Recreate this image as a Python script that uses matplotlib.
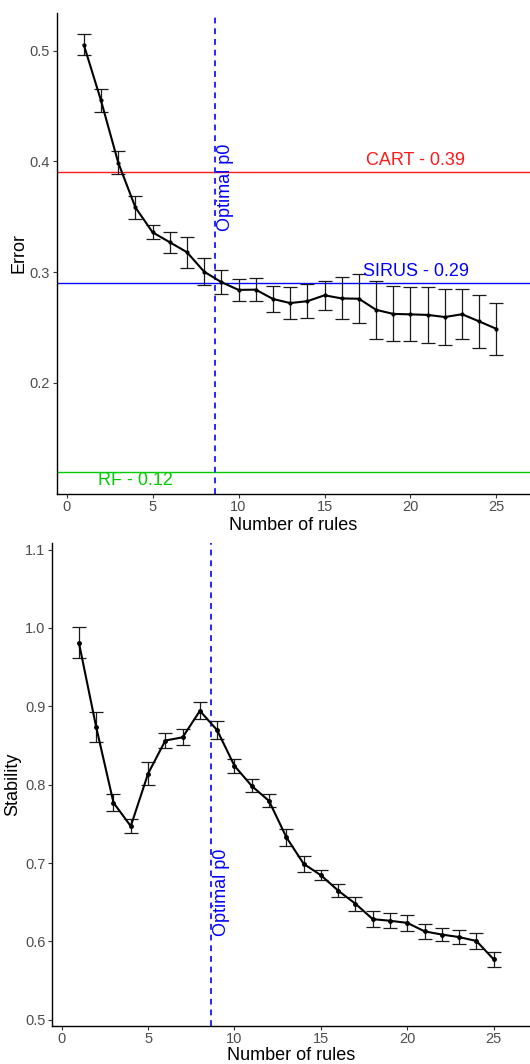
import matplotlib
matplotlib.use("Agg")
from matplotlib import pyplot as plt
import numpy as np

plt.rcParams['font.family'] = ['Liberation Sans', 'DejaVu Sans']

# number of rules
n_rules = np.arange(1, 26)

# top panel: error (mean, half width of error bar)
err_mean = [0.5053, 0.455, 0.399, 0.3585, 0.336, 0.327, 0.318, 0.3004, 0.291, 0.284,
            0.2842, 0.2758, 0.2721, 0.2738, 0.2791, 0.2763, 0.276, 0.266, 0.2623, 0.2619,
            0.2614, 0.2595, 0.262, 0.2555, 0.2488]
err_sd = [0.0093, 0.0103, 0.0108, 0.0107, 0.0065, 0.0093, 0.0139, 0.012, 0.011, 0.0099,
          0.0105, 0.0118, 0.0147, 0.0155, 0.0131, 0.019, 0.0222, 0.026, 0.0249, 0.0244,
          0.0251, 0.025, 0.0226, 0.0237, 0.0233]

# bottom panel: stability
stab_mean = [0.981, 0.8734, 0.777, 0.747, 0.814, 0.8563, 0.8604, 0.8942, 0.8694, 0.824,
             0.7983, 0.7792, 0.733, 0.699, 0.6844, 0.6648, 0.648, 0.6284, 0.6263, 0.6236,
             0.6128, 0.6087, 0.6055, 0.6005, 0.577]
stab_sd = [0.02, 0.0188, 0.011, 0.009, 0.015, 0.009, 0.01, 0.011, 0.0117, 0.009,
           0.0083, 0.0083, 0.011, 0.0102, 0.0062, 0.0087, 0.009, 0.0106, 0.0098, 0.0105,
           0.0097, 0.0087, 0.0089, 0.0105, 0.0094]

p0_opt = 8.63

# reference models
ref_names = ["CART", "SIRUS", "RF"]
ref_values = [0.39, 0.29, 0.12]
ref_colors = ["#FF1A1A", "#0000FF", "#00CD00"]
ref_label_x = [20.3, 20.3, 4.0]
ref_label_dy = [0.011, 0.011, -0.008]

tick_color = "#4D4D4D"


def style_axes(ax):
    for s in ["top", "right"]:
        ax.spines[s].set_visible(False)
    for s in ["left", "bottom"]:
        ax.spines[s].set_linewidth(1.0)
        ax.spines[s].set_color("black")
    ax.tick_params(axis="both", colors="#333333", labelcolor=tick_color,
                   labelsize=10.5, length=3, width=0.8, pad=2)
    ax.tick_params(axis="x", pad=1.5)
    ax.set_xticks([0, 5, 10, 15, 20, 25])


fig = plt.figure(figsize=(5.3, 10.64), dpi=100)

# ---- top: error ----
ax1 = fig.add_axes([0.1075, 0.5357, 0.8925, 0.4521])
for name, val, col, lx, dy in zip(ref_names, ref_values, ref_colors, ref_label_x, ref_label_dy):
    ax1.axhline(val, color=col, lw=1.0, zorder=1)
    ax1.text(lx, val + dy, "%s - %.2f" % (name, val), color=col, fontsize=13,
             ha="center", va="center", zorder=4)
ax1.axvline(p0_opt, color="#2626FF", lw=1.4, ls=(0, (3, 2.5)), zorder=2)
ax1.text(p0_opt + 0.62, 0.377, "Optimal p0", color="#0000FF", fontsize=13,
         rotation=90, ha="center", va="center", zorder=4)
ax1.errorbar(n_rules, err_mean, yerr=err_sd, color="black", lw=1.5, ecolor="#1a1a1a",
             elinewidth=0.9, capsize=5, capthick=0.9, marker="o", markersize=2, zorder=3)
ax1.set_xlim(-0.56, 26.95)
ax1.set_ylim(0.0997, 0.534)
ax1.set_yticks([0.2, 0.3, 0.4, 0.5])
ax1.set_yticklabels(["0.2", "0.3", "0.4", "0.5"])
style_axes(ax1)
ax1.set_xlabel("Number of rules", fontsize=13, va="center")
ax1.set_ylabel("Error", fontsize=13, va="center")
ax1.xaxis.set_label_coords(0.5, -0.066)
ax1.yaxis.set_label_coords(-0.080, 0.5)

# ---- bottom: stability ----
ax2 = fig.add_axes([0.0987, 0.0357, 0.9013, 0.4537])
ax2.axvline(p0_opt, color="#2626FF", lw=1.4, ls=(0, (3, 2.5)), zorder=2)
ax2.text(p0_opt + 0.6, 0.662, "Optimal p0", color="#0000FF", fontsize=13,
         rotation=90, ha="center", va="center", zorder=4)
ax2.errorbar(n_rules, stab_mean, yerr=stab_sd, color="black", lw=1.5, ecolor="#1a1a1a",
             elinewidth=0.9, capsize=5, capthick=0.9, marker="o", markersize=2.5, zorder=3)
ax2.set_xlim(-0.54, 27.1)
ax2.set_ylim(0.492, 1.108)
ax2.set_yticks([0.5, 0.6, 0.7, 0.8, 0.9, 1.0, 1.1])
ax2.set_yticklabels(["0.5", "0.6", "0.7", "0.8", "0.9", "1.0", "1.1"])
style_axes(ax2)
ax2.set_xlabel("Number of rules", fontsize=13, va="center")
ax2.set_ylabel("Stability", fontsize=13, va="center")
ax2.xaxis.set_label_coords(0.5, -0.061)
ax2.yaxis.set_label_coords(-0.083, 0.5)

fig.savefig("out.png", dpi=100)
